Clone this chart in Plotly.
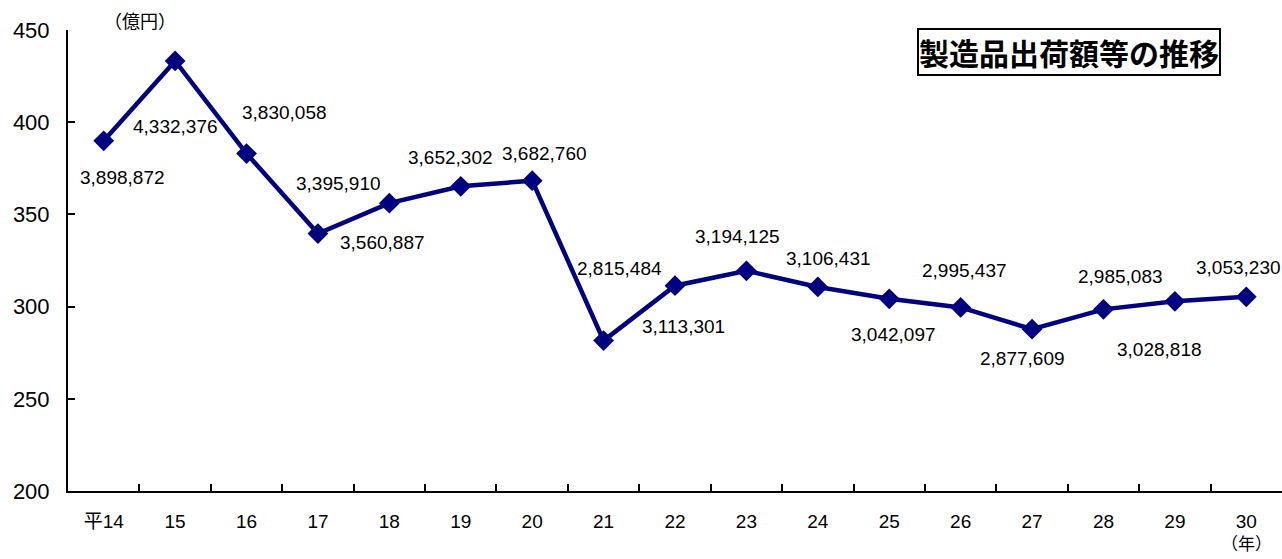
import plotly.graph_objects as go

years = ["平14", "15", "16", "17", "18", "19", "20", "21", "22", "23", "24", "25", "26", "27", "28", "29", "30"]
values_man = [3898872, 4332376, 3830058, 3395910, 3560887, 3652302, 3682760, 2815484,
              3113301, 3194125, 3106431, 3042097, 2995437, 2877609, 2985083, 3028818, 3053230]
values_oku = [v / 10000 for v in values_man]

# label offset (pixels) relative to each point
label_shift = [(19, -37), (0, -66), (38, 41), (21, 50), (-7, -39), (-10, 29), (12, 27), (16, 72),
               (8, -41), (-9, 34), (11, 28), (4, -36), (4, 37), (-10, -29), (17, 33), (-15, -48), (-8, 29)]

fig = go.Figure()
fig.add_trace(go.Scatter(
    x=years, y=values_oku, mode="lines+markers",
    line=dict(color="#000080", width=4.5),
    marker=dict(symbol="diamond", size=16, color="#000080"),
    showlegend=False, hoverinfo="skip",
))

for i, (v, vm, (dx, dy)) in enumerate(zip(values_oku, values_man, label_shift)):
    fig.add_annotation(x=i, y=v, text=f"{vm:,}", showarrow=False,
                       xshift=dx, yshift=dy,
                       font=dict(family="Liberation Sans, Arial, sans-serif", size=19, color="#000"))

fig.add_annotation(xref="paper", yref="paper", x=(917 - 68) / 1214, y=1 + 2 / 461,
                   yanchor="top", xanchor="left",
                   text="<b>製造品出荷額等の推移</b>", showarrow=False,
                   bordercolor="black", borderwidth=2, borderpad=0, bgcolor="white",
                   font=dict(family="Noto Sans CJK JP", size=30, color="#000"))
fig.add_annotation(xref="paper", yref="paper", x=(140 - 68) / 1214, y=1 + 10 / 461,
                   text="（億円）", showarrow=False, yanchor="middle", xanchor="center",
                   font=dict(family="Noto Sans CJK JP", size=18, color="#000"))
fig.add_annotation(xref="x", yref="paper", x=len(years) - 1, y=-(557 - 491) / 461, text="（年）",
                   showarrow=False, yanchor="bottom", xanchor="center",
                   font=dict(family="Noto Sans CJK JP", size=17, color="#000"))

fig.update_layout(
    width=1282, height=559,
    margin=dict(l=68, r=0, t=30, b=68),
    paper_bgcolor="white", plot_bgcolor="white",
    font=dict(family="Liberation Sans, Arial, sans-serif", color="#000"),
)
fig.update_xaxes(
    type="category", range=[-0.5, 16.5],
    showline=True, linecolor="black", linewidth=2,
    ticks="inside", tickson="boundaries", ticklen=7, tickwidth=2, tickcolor="black",
    showgrid=False, zeroline=False,
    tickfont=dict(family="Liberation Sans, Noto Sans CJK JP", size=19),
    ticklabelstandoff=12,
)
fig.update_yaxes(
    range=[200, 450], tickvals=[200, 250, 300, 350, 400, 450],
    showline=True, linecolor="black", linewidth=2,
    ticks="inside", ticklen=7, tickwidth=2, tickcolor="black",
    showgrid=False, zeroline=False,
    tickfont=dict(size=22),
    ticklabelstandoff=12,
)

fig.write_html("out.html", config={"displayModeBar": False},
               post_script="document.body.style.margin='0px';")
